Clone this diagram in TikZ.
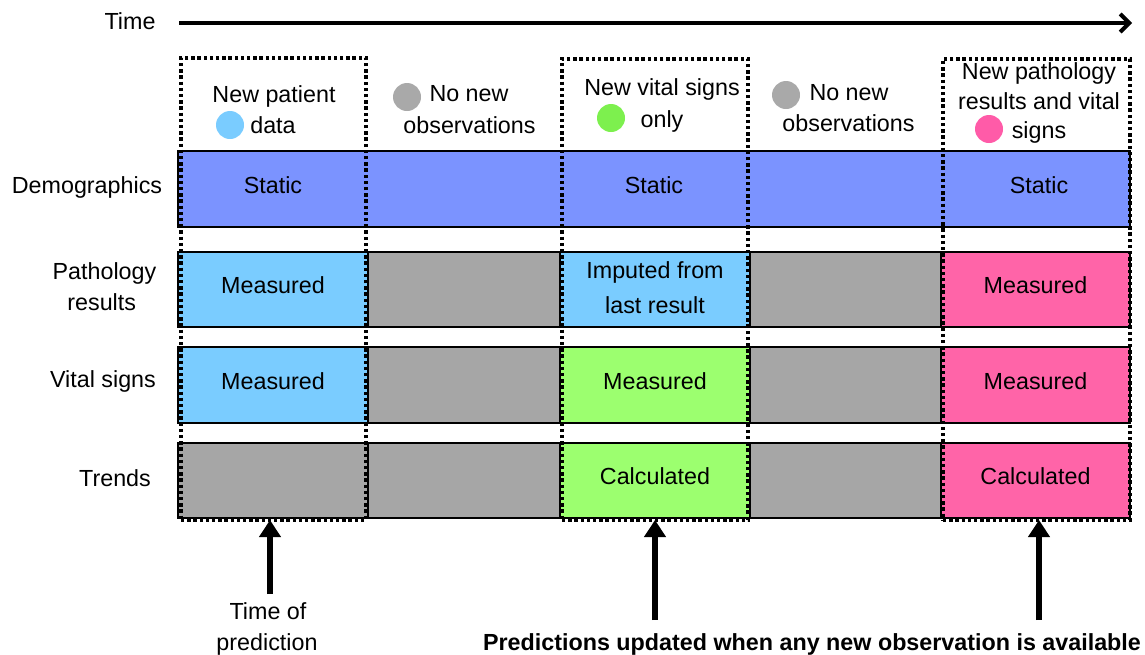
\documentclass[tikz,border=0pt]{standalone}
\usepackage{fontspec}
\setmainfont{Liberation Sans}
\usetikzlibrary{arrows.meta}
\definecolor{demoblue}{HTML}{7B93FF}
\definecolor{lightblue}{HTML}{7ACCFF}
\definecolor{cellgray}{HTML}{A6A6A6}
\definecolor{cellgreen}{HTML}{9CFF6F}
\definecolor{cellpink}{HTML}{FF64A8}
\definecolor{dotgray}{HTML}{A9A9A9}
\definecolor{dotgreen}{HTML}{7DF04E}
\definecolor{dotpink}{HTML}{FF5BA8}
\begin{document}
\begin{tikzpicture}[x=1pt,y=-1pt,
  every node/.style={font=\fontsize{23.3}{31}\selectfont, inner sep=0pt, outer sep=0pt},
  cell/.style={draw=black, line width=1.8pt, anchor=north west, minimum height=76pt},
  one/.style={text height=16.5pt, text depth=8pt},
  lbl/.style={anchor=base},
  marker/.style={circle, minimum size=28pt, draw=none},
  dotbox/.style={draw=black, line width=3.6pt, dash pattern=on 3.4pt off 2.8pt, anchor=north west},
  uparrow/.style={line width=6pt, -{Triangle[length=17pt,width=21pt]}},
  timearrow/.style={line width=4pt, -{Straight Barb[length=9pt,width=18pt]}}]
\useasboundingbox (0,0) rectangle (1145,654);

% time axis
\node[lbl] (timelbl) at (130,29.3) {Time};
\coordinate (tstart) at (179,23);
\coordinate (tend) at (1132,23);
\draw[timearrow] (tstart) -- (tend);

% column headers
\node[lbl] (h1a) at (274,102) {New patient};
\node[lbl] (h1b) at (273,133) {data};
\node[marker, fill=lightblue] (m1) at (230,125) {};
\node[lbl] (h2a) at (469,101.7) {No new};
\node[lbl] (h2b) at (469.5,133) {observations};
\node[marker, fill=dotgray] (m2) at (407,97) {};
\node[lbl] (h3a) at (662,95) {New vital signs};
\node[lbl] (h3b) at (662,127) {only};
\node[marker, fill=dotgreen] (m3) at (611,118) {};
\node[lbl] (h4a) at (849,100) {No new};
\node[lbl] (h4b) at (848.5,131) {observations};
\node[marker, fill=dotgray] (m4) at (786,95) {};
\node[lbl] (h5a) at (1039,79) {New pathology};
\node[lbl] (h5b) at (1039,109) {results and vital};
\node[lbl] (h5c) at (1039,138) {signs};
\node[marker, fill=dotpink] (m5) at (989,129) {};

% row labels
\node[lbl] (r1) at (87,193) {Demographics};
\node[lbl] (r2a) at (104.5,279.3) {Pathology};
\node[lbl] (r2b) at (101.7,310) {results};
\node[lbl] (r3) at (103,387.7) {Vital signs};
\node[lbl] (r4) at (115,486) {Trends};

% demographics row
\node[cell, fill=demoblue, minimum width=952pt] (demo) at (178,151) {};
\node[one] (s1) at (273,189) {Static};
\node[one] (s3) at (654,189) {Static};
\node[one] (s5) at (1039,189) {Static};

% pathology row
\node[cell, one, fill=lightblue, minimum width=190pt, minimum height=75pt] (p1) at (178,252) {Measured};
\node[cell, fill=cellgray, minimum width=192pt, minimum height=75pt] (p2) at (368,252) {};
\node[cell, fill=lightblue, minimum width=190pt, minimum height=75pt, align=center] (p3) at (560,252) {\raisebox{3pt}{\begin{tabular}{@{}c@{}}Imputed from\\[4pt]last result\end{tabular}}};
\node[cell, fill=cellgray, minimum width=191pt, minimum height=75pt] (p4) at (750,252) {};
\node[cell, one, fill=cellpink, minimum width=189pt, minimum height=75pt] (p5) at (941,252) {Measured};

% vital signs row
\node[cell, one, fill=lightblue, minimum width=190pt] (v1) at (178,347) {Measured};
\node[cell, fill=cellgray, minimum width=192pt] (v2) at (368,347) {};
\node[cell, one, fill=cellgreen, minimum width=190pt] (v3) at (560,347) {Measured};
\node[cell, fill=cellgray, minimum width=191pt] (v4) at (750,347) {};
\node[cell, one, fill=cellpink, minimum width=189pt] (v5) at (941,347) {Measured};

% trends row
\node[cell, fill=cellgray, minimum width=190pt, minimum height=75pt] (t1) at (178,443) {};
\node[cell, fill=cellgray, minimum width=192pt, minimum height=75pt] (t2) at (368,443) {};
\node[cell, one, fill=cellgreen, minimum width=190pt, minimum height=75pt] (t3) at (560,443) {Calculated};
\node[cell, fill=cellgray, minimum width=191pt, minimum height=75pt] (t4) at (750,443) {};
\node[cell, one, fill=cellpink, minimum width=189pt, minimum height=75pt] (t5) at (941,443) {Calculated};

% dotted highlight boxes
\node[dotbox, minimum width=185pt, minimum height=462pt] (b1) at (181,58) {};
\node[dotbox, minimum width=186pt, minimum height=461pt] (b3) at (562,59) {};
\node[dotbox, minimum width=187pt, minimum height=461pt] (b5) at (943,59) {};

% bottom labels and arrows
\node[lbl] (tp1) at (268,619) {Time of};
\node[lbl] (tp2) at (267,650) {prediction};
\node[lbl, font=\bfseries\fontsize{23.3}{31}\selectfont] (upd) at (812,650) {Predictions updated when any new observation is available};
\coordinate (a1) at (270,594);
\coordinate (a3) at (655,620);
\coordinate (a5) at (1039,620);
\draw[uparrow] (a1) -- (a1 |- b1.south);
\draw[uparrow] (a3) -- (a3 |- b3.south);
\draw[uparrow] (a5) -- (a5 |- b5.south);
\end{tikzpicture}
\end{document}
